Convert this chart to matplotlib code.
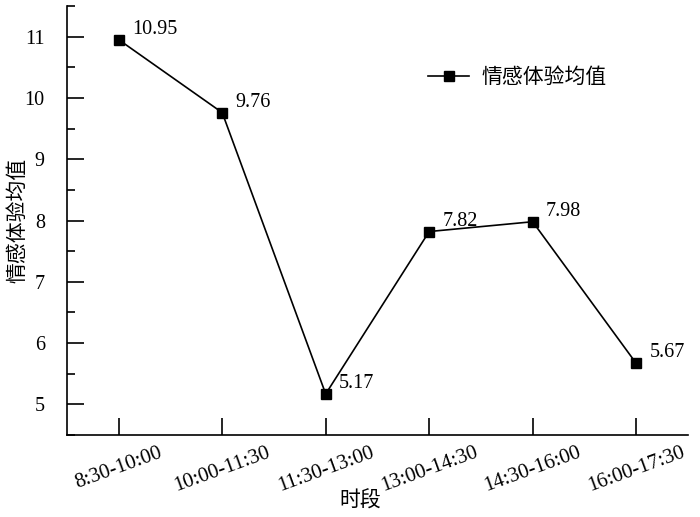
import matplotlib
matplotlib.use("Agg")
import matplotlib.pyplot as plt
from matplotlib.ticker import MultipleLocator

categories = ["8:30-10:00", "10:00-11:30", "11:30-13:00", "13:00-14:30", "14:30-16:00", "16:00-17:30"]
values = [10.95, 9.76, 5.17, 7.82, 7.98, 5.67]
value_labels = ["10.95", "9.76", "5.17", "7.82", "7.98", "5.67"]
yticks = [5, 6, 7, 8, 9, 10, 11]

serif = ["Liberation Serif", "DejaVu Serif"]
cjk = ["Noto Sans CJK SC", "DejaVu Sans"]

fig = plt.figure(figsize=(7.0, 5.17), dpi=100)
ax = fig.add_axes([0.0957, 0.1586, 0.887, 0.8298])

x = list(range(len(categories)))
ax.plot(x, values, color="black", lw=1.2, marker="s", markersize=7.5,
        markerfacecolor="black", markeredgecolor="black", label="情感体验均值")

for xi, v, lab in zip(x, values, value_labels):
    ax.annotate(lab, (xi, v), xytext=(9.5, 7.5), textcoords="offset points",
                fontsize=14.5, family=serif, ha="left", va="center")

ax.set_xlim(-0.5, 5.5)
ax.set_ylim(4.5, 11.5)
ax.set_xticks(x)
ax.set_xticklabels(categories, rotation=20, fontsize=15, family=serif,
                   ha="center", rotation_mode="default")
ax.set_yticks(yticks)
ax.set_yticklabels([str(t) for t in yticks], fontsize=14.5, family=serif)
ax.yaxis.set_minor_locator(MultipleLocator(0.5))

ax.tick_params(axis="y", which="major", direction="in", length=12.5, width=1.2, pad=16)
ax.tick_params(axis="y", which="minor", direction="in", length=6, width=1.2)
ax.tick_params(axis="x", which="major", direction="in", length=12.5, width=1.2, pad=6)

for s in ["top", "right"]:
    ax.spines[s].set_visible(False)
for s in ["left", "bottom"]:
    ax.spines[s].set_linewidth(1.2)

ax.set_ylabel("情感体验均值", family=cjk, fontsize=15, va="center")
ax.yaxis.set_label_coords(-0.0805, 0.5)
ax.set_xlabel("时段", family=cjk, fontsize=15, va="center")
ax.xaxis.set_label_coords(0.472, -0.152)

leg = ax.legend(loc="center left", bbox_to_anchor=(0.581, 0.834), frameon=False,
                prop={"family": cjk, "size": 15}, handlelength=2.0,
                handletextpad=0.58, borderpad=0, borderaxespad=0)

fig.savefig("out.png", dpi=100)
